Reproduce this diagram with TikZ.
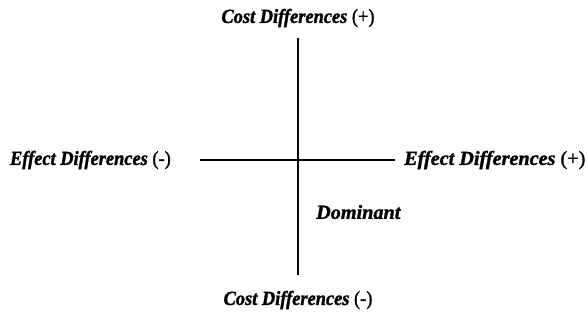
\documentclass[tikz,border=0pt]{standalone}
\usepackage{fontspec}
\setmainfont{Liberation Serif}
\newfontfamily\axfont[FakeStretch=0.92,FakeBold=1.5]{Liberation Serif}
\newfontfamily\axwidefont[FakeStretch=1.01,FakeBold=1.5]{Liberation Serif}
\usetikzlibrary{positioning}

\tikzset{
  axlabel/.style={inner sep=0pt, font=\axfont\fontsize{20}{24}\selectfont},
  axwide/.style={axlabel, font=\axwidefont\fontsize{20}{24}\selectfont},
  axline/.style={black, line width=1.3pt}
}

\begin{document}
\begin{tikzpicture}[x=1pt,y=1pt]
\useasboundingbox (0,0) rectangle (587,322);
%%%%%%%%% axes
\coordinate (top) at (298,284);
\coordinate (bottom) at (298,47);
\coordinate (left) at (200,162);
\coordinate (right) at (395,162);
\draw[axline] (top) -- (bottom);
\draw[axline] (left) -- (right);

%%%%%%%%% labels
\node[axlabel] (costplus) at (298,304) {\textbf{\textit{Cost Differences}} (+)};
\node[axlabel] (costminus) at (298,22) {\textbf{\textit{Cost Differences}} (-)};
\node[axlabel, anchor=east] (effminus) at (171,162) {\textbf{\textit{Effect Differences}} (-)};
\node[axwide, anchor=west] (effplus) at (404,162) {\textbf{\textit{Effect Differences}} (+)};
\node[axwide, anchor=west] (dominant) at (316,110) {\textbf{\textit{Dominant}}};

\end{tikzpicture}
\end{document}
